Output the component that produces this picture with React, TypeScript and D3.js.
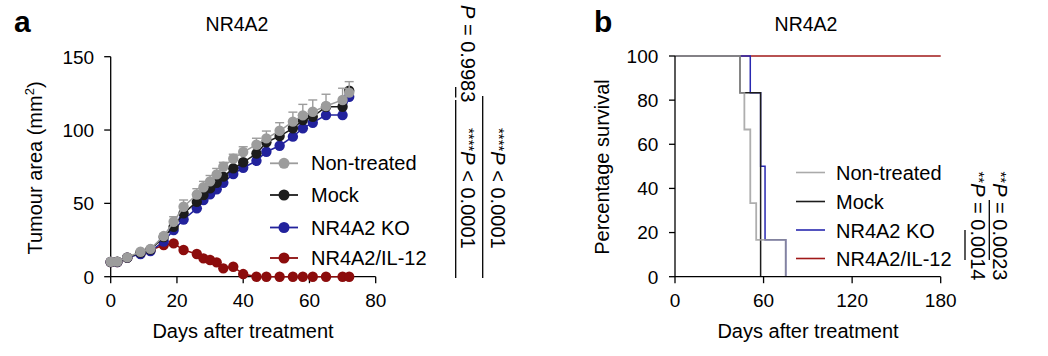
import React from "react";
import * as d3 from "d3";

// ---------- Panel a data ----------
const days = [0, 2, 5, 9, 12, 16, 19, 22, 26, 28, 30, 32, 34, 37, 40, 44, 47, 51, 55, 58, 61, 65, 70, 72];
const nonTreated = [10.2, 10.3, 13.2, 17, 19, 27.7, 37.5, 47.7, 56, 61, 65, 69.8, 75, 80.5, 85, 90, 94.3, 99.5, 105.7, 110, 112.5, 116.4, 120.5, 125.5];
const nonTreatedErr = [0.5, 0.5, 0.8, 1, 1, 1.5, 3.4, 4.6, 4, 4, 4, 4, 3, 3, 3.6, 4.4, 5, 5.5, 6.5, 7.5, 8, 8, 8, 7.5];
const mock = [10, 10.2, 13, 16.5, 18.5, 27, 34, 43.2, 51, 55.7, 60.2, 64, 68.2, 73.9, 78, 84, 91.6, 95.9, 101.2, 106.8, 109, 115.9, 115.9, 126.8];
const ko = [10, 10, 13, 15.5, 17.5, 24, 31.8, 39, 46.6, 52.3, 56.2, 59.6, 64, 70, 74.3, 79, 85.2, 89.3, 95.5, 101.2, 105, 110.2, 110.2, 122.7];
const il12 = [10, 10, 13, 16, 18, 21.6, 22.7, 18.2, 15.5, 12.5, 11.4, 9.8, 5.7, 6.8, 1.8, 0, 0, 0, 0, 0, 0, 0, 0, 0];
const xTicksA = [0, 20, 40, 60, 80];
const yTicksA = [0, 50, 100, 150];

// ---------- Panel b data ----------
const ntTimes = [0, 44, 47, 51, 55, 75];
const ntSurv = [100, 83.3, 66.7, 33.3, 16.7, 0];
const mockTimes = [0, 44, 58];
const mockSurv = [100, 83.3, 0];
const koTimes = [0, 51, 58, 61, 75];
const koSurv = [100, 83.3, 50, 16.7, 0];
const ilTimes = [0, 180];
const ilSurv = [100, 100];
const xTicksB = [0, 60, 120, 180];
const yTicksB = [0, 20, 40, 60, 80, 100];

const seriesNames = ["Non-treated", "Mock", "NR4A2 KO", "NR4A2/IL-12"];

const FONT = "'Liberation Sans', Arial, Helvetica, sans-serif";
const GRAY = "#9c9c9c";
const BLACK = "#1c1c1c";
const BLUE = "#22229c";
const RED = "#8c0c0c";
const BLUE_B = "#2828b0";
const RED_B = "#a01818";

export default function App() {
  // Panel a scales
  const xA = d3.scaleLinear().domain([0, 80]).range([110.7, 375.7]);
  const yA = d3.scaleLinear().domain([0, 150]).range([276.7, 56.7]);
  // Panel b scales
  const xB = d3.scaleLinear().domain([0, 180]).range([675, 940.7]);
  const yB = d3.scaleLinear().domain([0, 100]).range([276.7, 56]);

  const lineA = (vals: number[]) =>
    d3.line<number>().x((_, i) => xA(days[i])).y((v) => yA(v))(vals) || "";
  const stepB = (t: number[], s: number[]) =>
    d3.line<number>().x((_, i) => xB(t[i])).y((v) => yB(v)).curve(d3.curveStepAfter)(s) || "";

  const seriesA = [
    { vals: il12, color: RED },
    { vals: ko, color: BLUE },
    { vals: mock, color: BLACK },
    { vals: nonTreated, color: GRAY },
  ];

  const legendA = [
    { name: seriesNames[0], color: GRAY, y: 163.3 },
    { name: seriesNames[1], color: BLACK, y: 195 },
    { name: seriesNames[2], color: BLUE, y: 227.5 },
    { name: seriesNames[3], color: RED, y: 258 },
  ];
  const legendB = [
    { name: seriesNames[0], color: "#aaaaaa", y: 172.5 },
    { name: seriesNames[1], color: BLACK, y: 201.5 },
    { name: seriesNames[2], color: BLUE_B, y: 230 },
    { name: seriesNames[3], color: RED_B, y: 258.5 },
  ];

  const axisStroke = { stroke: "#000", strokeWidth: 1.3, fill: "none" };

  return (
    <svg
      width={1048}
      height={356}
      style={{ position: "absolute", left: 0, top: 0, background: "#fff" }}
      fontFamily={FONT}
    >
      <rect width={1048} height={356} fill="#fff" />
      {/* Panel letters and titles */}
      <text x={14} y={32.3} fontSize={30} fontWeight="bold">a</text>
      <text x={594} y={32.3} fontSize={30} fontWeight="bold">b</text>
      <text x={237} y={30.7} fontSize={19.5} textAnchor="middle">NR4A2</text>
      <text x={806} y={30.7} fontSize={19.5} textAnchor="middle">NR4A2</text>

      {/* ---------- Panel a ---------- */}
      <g>
        <line x1={xA(0)} x2={xA(0)} y1={yA(150)} y2={yA(0)} {...axisStroke} />
        <line x1={xA(0)} x2={xA(80)} y1={yA(0)} y2={yA(0)} {...axisStroke} />
        {yTicksA.map((t) => (
          <g key={"ya" + t}>
            <line x1={xA(0) - 6.5} x2={xA(0)} y1={yA(t)} y2={yA(t)} {...axisStroke} />
            <text x={xA(0) - 16.5} y={yA(t)} dy="0.36em" fontSize={19} textAnchor="end">{t}</text>
          </g>
        ))}
        {xTicksA.map((t) => (
          <g key={"xa" + t}>
            <line x1={xA(t)} x2={xA(t)} y1={yA(0)} y2={yA(0) + 6.5} {...axisStroke} />
            <text x={xA(t)} y={307.3} fontSize={19} textAnchor="middle">{t}</text>
          </g>
        ))}
        <text x={243} y={338.3} fontSize={20} textAnchor="middle">Days after treatment</text>
        <text transform="translate(41.5,168) rotate(-90)" fontSize={20} textAnchor="middle">
          Tumour area (mm<tspan fontSize={13} dy={-8}>2</tspan><tspan dy={8}>)</tspan>
        </text>

        {seriesA.map((s, si) => (
          <g key={"sa" + si}>
            <path d={lineA(s.vals)} fill="none" stroke={s.color} strokeWidth={1.5} />
            {s.color === GRAY &&
              s.vals.map((v, i) => (
                <g key={"e" + i} stroke={GRAY} strokeWidth={1.4}>
                  <line x1={xA(days[i])} x2={xA(days[i])} y1={yA(v)} y2={yA(v + nonTreatedErr[i])} />
                  <line x1={xA(days[i]) - 4.5} x2={xA(days[i]) + 4.5} y1={yA(v + nonTreatedErr[i])} y2={yA(v + nonTreatedErr[i])} />
                </g>
              ))}
            {s.vals.map((v, i) => (
              <circle key={"c" + i} cx={xA(days[i])} cy={yA(v)} r={5.2} fill={s.color} />
            ))}
          </g>
        ))}

        {legendA.map((l) => (
          <g key={"la" + l.name}>
            <line x1={270} x2={298} y1={l.y} y2={l.y} stroke={l.color} strokeWidth={1.8} />
            <circle cx={284} cy={l.y} r={5.5} fill={l.color} />
            <text x={311} y={l.y + 7} fontSize={20}>{l.name}</text>
          </g>
        ))}

        {/* statistics */}
        <line x1={455.7} x2={455.7} y1={87} y2={97.5} stroke="#000" strokeWidth={1.3} />
        <line x1={455.7} x2={455.7} y1={100} y2={278} stroke="#000" strokeWidth={1.3} />
        <line x1={482.7} x2={482.7} y1={96} y2={278} stroke="#000" strokeWidth={1.3} />
        <text transform="translate(460.5,5) rotate(90)" fontSize={20}>
          <tspan fontStyle="italic">P</tspan> = 0.9983
        </text>
        <text transform="translate(460.5,128) rotate(90)" fontSize={20}>
          <tspan fontSize={15} dy={-3}>****</tspan>
          <tspan dy={3} fontStyle="italic">P</tspan> &lt; 0.0001
        </text>
        <text transform="translate(490.5,128) rotate(90)" fontSize={20}>
          <tspan fontSize={15} dy={-3}>****</tspan>
          <tspan dy={3} fontStyle="italic">P</tspan> &lt; 0.0001
        </text>
      </g>

      {/* ---------- Panel b ---------- */}
      <g>
        <path d={stepB(ilTimes, ilSurv)} fill="none" stroke={RED_B} strokeWidth={1.5} />
        <path d={stepB(koTimes, koSurv)} fill="none" stroke={BLUE_B} strokeWidth={1.5} />
        <path d={stepB(mockTimes, mockSurv)} fill="none" stroke={BLACK} strokeWidth={1.5} />
        <path d={stepB(ntTimes, ntSurv)} fill="none" stroke="#9a9a9a" strokeOpacity={0.8} strokeWidth={1.8} />

        <line x1={xB(0)} x2={xB(0)} y1={yB(100)} y2={yB(0)} {...axisStroke} />
        <line x1={xB(0)} x2={xB(180)} y1={yB(0)} y2={yB(0)} {...axisStroke} />
        {yTicksB.map((t) => (
          <g key={"yb" + t}>
            <line x1={xB(0) - 6} x2={xB(0)} y1={yB(t)} y2={yB(t)} {...axisStroke} />
            <text x={xB(0) - 16.7} y={yB(t)} dy="0.36em" fontSize={19} textAnchor="end">{t}</text>
          </g>
        ))}
        {xTicksB.map((t) => (
          <g key={"xb" + t}>
            <line x1={xB(t)} x2={xB(t)} y1={yB(0)} y2={yB(0) + 6.5} {...axisStroke} />
            <text x={xB(t)} y={307.3} fontSize={19} textAnchor="middle">{t}</text>
          </g>
        ))}
        <text x={808} y={338.3} fontSize={20} textAnchor="middle">Days after treatment</text>
        <text transform="translate(609,167) rotate(-90)" fontSize={20} textAnchor="middle">Percentage survival</text>

        {legendB.map((l) => (
          <g key={"lb" + l.name}>
            <line x1={796} x2={825} y1={l.y} y2={l.y} stroke={l.color} strokeWidth={1.6} />
            <text x={836} y={l.y + 7.5} fontSize={20}>{l.name}</text>
          </g>
        ))}

        <line x1={989.3} x2={989.3} y1={200} y2={260} stroke="#000" strokeWidth={1.3} />
        <line x1={965} x2={965} y1={230} y2={260} stroke="#000" strokeWidth={1.3} />
        <text transform="translate(993,171.5) rotate(90)" fontSize={20}>
          <tspan fontSize={15} dy={-3}>**</tspan>
          <tspan dy={3} fontStyle="italic">P</tspan> = 0.0023
        </text>
        <text transform="translate(970.5,171.5) rotate(90)" fontSize={20}>
          <tspan fontSize={15} dy={-3}>**</tspan>
          <tspan dy={3} fontStyle="italic">P</tspan> = 0.0014
        </text>
      </g>
    </svg>
  );
}
